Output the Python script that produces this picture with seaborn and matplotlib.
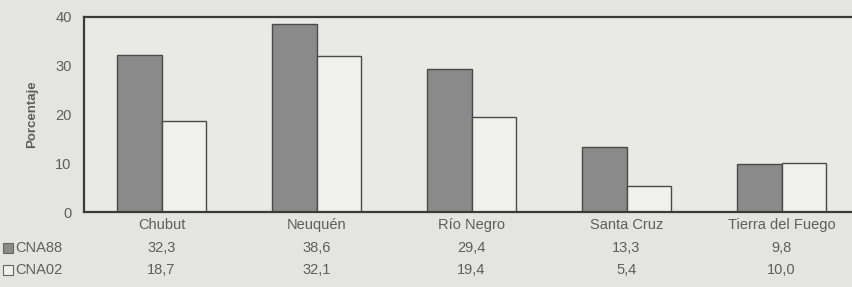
import matplotlib
matplotlib.use("Agg")
import matplotlib.pyplot as plt
import matplotlib.transforms as mtransforms
import seaborn as sns
import pandas as pd

categories = ["Chubut", "Neuquén", "Río Negro", "Santa Cruz", "Tierra del Fuego"]
series_names = ["CNA88", "CNA02"]
cna88 = [32.3, 38.6, 29.4, 13.3, 9.8]
cna02 = [18.7, 32.1, 19.4, 5.4, 10.0]
cna88_labels = ["32,3", "38,6", "29,4", "13,3", "9,8"]
cna02_labels = ["18,7", "32,1", "19,4", "5,4", "10,0"]
y_ticks = [0, 10, 20, 30, 40]

df = pd.DataFrame({
    "Provincia": categories * 2,
    "Serie": [series_names[0]] * len(categories) + [series_names[1]] * len(categories),
    "Valor": cna88 + cna02,
})

bg = "#e4e4e2"
dark = "#8a8a8a"
light = "#f0f0ee"
edge = "#4a4a4a"
txt = "#5e5e5e"

sns.set_theme(style="white")
plt.rcParams["font.family"] = ["Liberation Sans", "DejaVu Sans"]

fig = plt.figure(figsize=(8.52, 2.87), dpi=100, facecolor=bg)
ax = fig.add_axes([84 / 852, 1 - 212 / 287, (852 - 84) / 852, (212 - 17) / 287])
ax.set_facecolor("#e9e9e7")

sns.barplot(data=df, x="Provincia", y="Valor", hue="Serie", hue_order=series_names,
            palette=[dark, light], width=0.57, edgecolor=edge, linewidth=1.0,
            legend=False, ax=ax)

ax.set_xlim(-0.5, -0.5 + 768 / 155)
ax.set_ylim(0, 40)
ax.set_yticks(y_ticks)
ax.set_yticklabels([str(t) for t in y_ticks], fontsize=10.5, color=txt)
ax.tick_params(axis="y", length=0, pad=9)
ax.set_xticks([])
ax.set_xlabel("")
ax.set_ylabel("Porcentaje", fontsize=9.5, fontweight="bold", color=txt, labelpad=12)
for s in ["left", "top", "bottom"]:
    ax.spines[s].set_visible(True)
    ax.spines[s].set_color("#3a3a3a")
    ax.spines[s].set_linewidth(1.6)
ax.spines["right"].set_visible(False)

# data table below the axes
trans = mtransforms.blended_transform_factory(ax.transData, fig.transFigure)
for i, cat in enumerate(categories):
    ax.text(i, 1 - 225 / 287, cat, transform=trans, ha="center", va="center",
            fontsize=10.5, color=txt, clip_on=False)
    ax.text(i, 1 - 248 / 287, cna88_labels[i], transform=trans, ha="center", va="center",
            fontsize=10.5, color=txt, clip_on=False)
    ax.text(i, 1 - 270 / 287, cna02_labels[i], transform=trans, ha="center", va="center",
            fontsize=10.5, color=txt, clip_on=False)

# row headers with swatches
for row_y, name, col in [(248, series_names[0], dark), (270, series_names[1], light)]:
    fig.patches.append(matplotlib.patches.Rectangle(
        (3 / 852, 1 - (row_y + 5) / 287), 10 / 852, 10 / 287,
        transform=fig.transFigure, facecolor=col, edgecolor="#666666", linewidth=0.8))
    fig.text(15 / 852, 1 - row_y / 287, name, ha="left", va="center", fontsize=10.5, color=txt)

fig.savefig("out.png", dpi=100, facecolor=bg)
